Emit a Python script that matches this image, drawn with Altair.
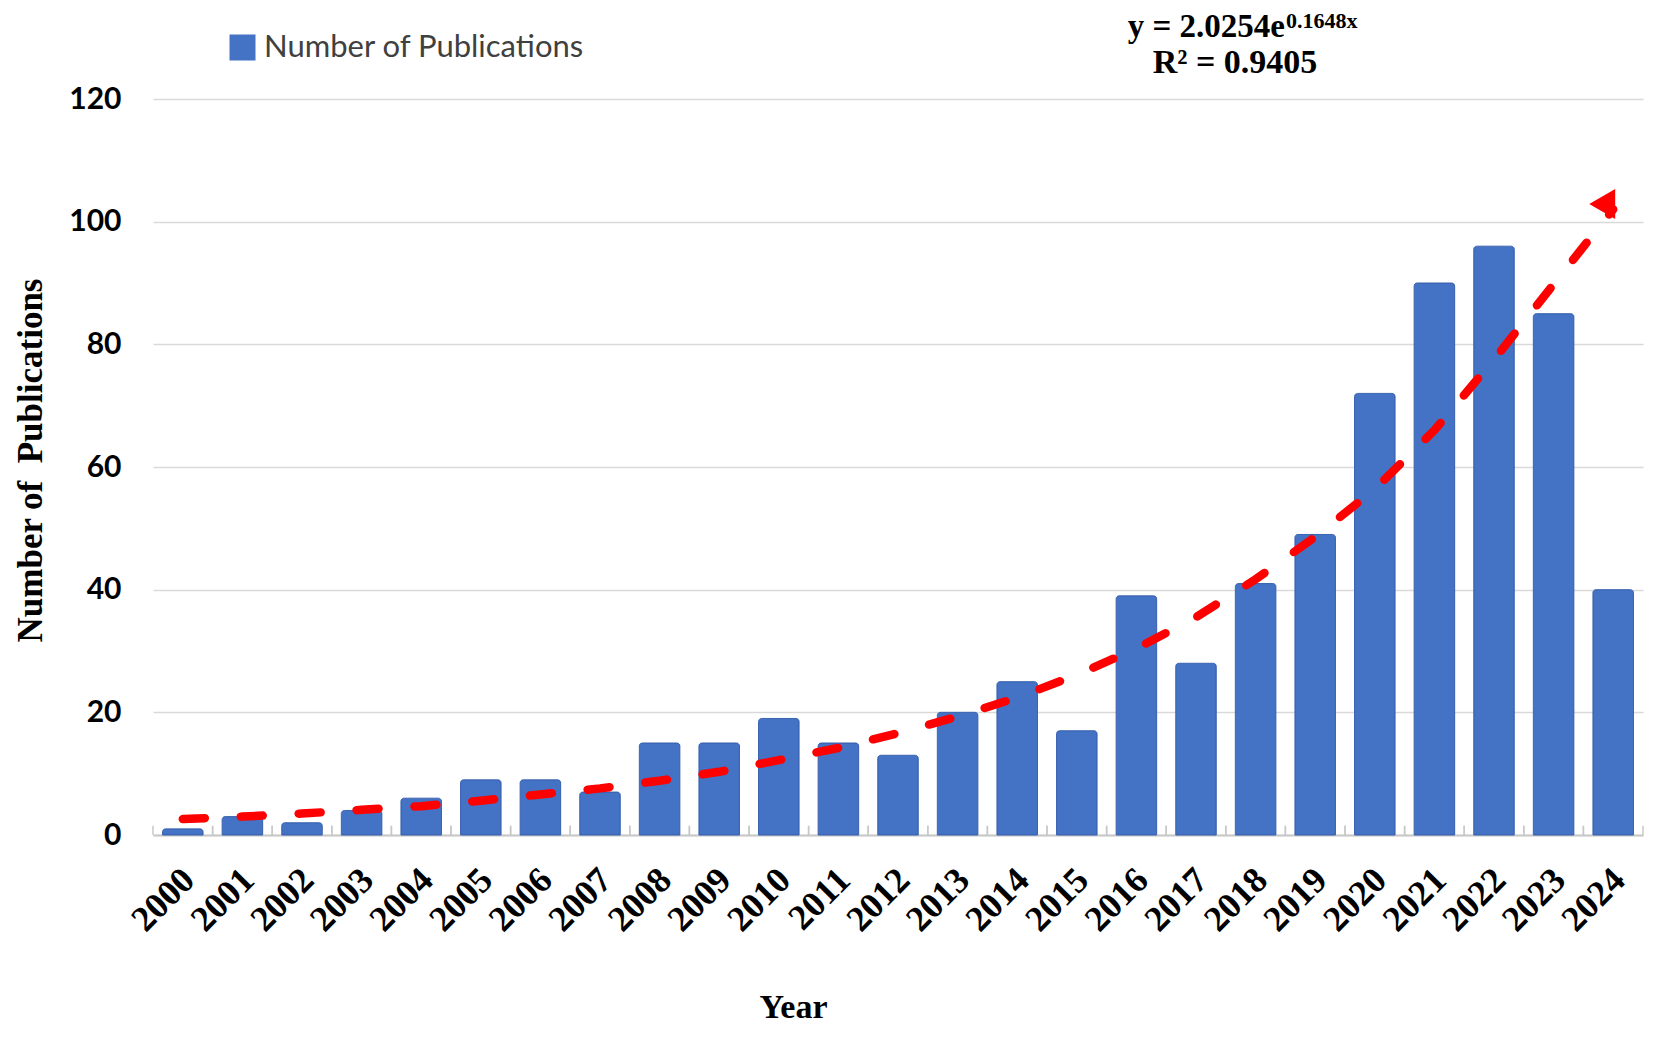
import altair as alt
import pandas as pd

years = [str(y) for y in range(2000, 2025)]
publications = [1, 3, 2, 4, 6, 9, 9, 7, 15, 15, 19, 15, 13, 20, 25, 17, 39, 28, 41, 49, 72, 90, 96, 85, 40]
trend = [2.6, 3.0, 3.5, 4.1, 4.7, 5.6, 6.6, 7.6, 8.85, 10.3, 12.2, 14.2, 16.6, 19.3, 22.4,
         26.1, 30.4, 35.5, 41.7, 48.6, 56.4, 66.0, 77.5, 89.8, 102.0]
series_name = "Number of Publications"
y_ticks = [0, 20, 40, 60, 80, 100, 120]
arrow_year = ["2024"]
arrow_value = [102.9]
eq_main = "y = 2.0254e"
eq_sup = "0.1648x"
eq_r2 = "R\u00b2 = 0.9405"

df = pd.DataFrame({"year": years, "pubs": publications, "trend": trend,
                   "series": [series_name] * len(years)})
arrow_df = pd.DataFrame({"year": arrow_year, "v": arrow_value})

W, H = 1490, 736
xscale = alt.Scale(paddingInner=0, paddingOuter=0)
yscale = alt.Scale(domain=[0, 120], nice=False)

x_axis = alt.Axis(
    title="Year", labelAngle=315, labelAlign="right", labelBaseline="top",
    labelPadding=27, labelOffset=-6, labelFont="Liberation Serif", labelFontWeight="bold",
    labelFontSize=36, labelColor="black", ticks=False, domainColor="#c8c8c8",
    domainWidth=2, grid=False, titleFont="Liberation Serif", titleFontWeight="bold",
    titleFontSize=34, titleColor="black", titleX=640, titleY=182,
    titleBaseline="alphabetic", titleAlign="center",
)
y_axis = alt.Axis(
    title="Number of\u00a0 Publications", values=y_ticks, labelFont="Lato",
    labelFontWeight="bold", labelFontSize=30, labelColor="black", labelPadding=32,
    ticks=False, domain=False, grid=True, gridColor="#d9d9d9", gridWidth=1.5,
    titleFont="Liberation Serif", titleFontWeight="bold", titleFontSize=35,
    titleColor="black", titleX=-123, titleY=361, titleAngle=270,
    titleBaseline="middle", titleAlign="center",
)

base = alt.Chart(df)

bars = base.mark_bar(
    width=alt.RelativeBandSize(0.68), cornerRadiusTopLeft=3, cornerRadiusTopRight=3,
    stroke="#3a63b0", strokeWidth=1,
).encode(
    x=alt.X("year:O", scale=xscale, axis=x_axis),
    y=alt.Y("pubs:Q", scale=yscale, axis=y_axis),
    color=alt.Color("series:N", scale=alt.Scale(domain=[series_name], range=["#4472C4"]),
                    legend=alt.Legend(title=None, orient="none", legendX=74, legendY=-67,
                                      symbolType="square", symbolSize=676,
                                      symbolStrokeWidth=0, labelFont="Lato",
                                      labelFontSize=31, labelColor="#404040",
                                      labelOffset=6, padding=0, labelLimit=1000)),
)

ticks_left = base.mark_rule(color="#c8c8c8", strokeWidth=1.5).encode(
    x=alt.X("year:O", bandPosition=0), y=alt.datum(0), y2=alt.datum(1.5))
ticks_right = base.mark_rule(color="#c8c8c8", strokeWidth=1.5).encode(
    x=alt.X("year:O", bandPosition=1), y=alt.datum(0), y2=alt.datum(1.5))

trend_line = base.mark_line(color="#FF0000", strokeWidth=8.5, strokeDash=[22, 36],
                            strokeCap="round").encode(
    x=alt.X("year:O"), y=alt.Y("trend:Q"))

arrow = alt.Chart(arrow_df).mark_point(shape="triangle-left", filled=True, size=900,
                                       color="#FF0000", opacity=1, xOffset=-11).encode(
    x=alt.X("year:O"), y=alt.Y("v:Q"))

t1 = alt.Chart(pd.DataFrame({"t": [eq_main]})).mark_text(
    font="Liberation Serif", fontWeight="bold", fontSize=33, color="black",
    align="right", baseline="alphabetic").encode(
    x=alt.value(1132), y=alt.value(-62), text="t:N")
t2 = alt.Chart(pd.DataFrame({"t": [eq_sup]})).mark_text(
    font="Liberation Serif", fontWeight="bold", fontSize=22, color="black",
    align="left", baseline="alphabetic").encode(
    x=alt.value(1133), y=alt.value(-71), text="t:N")
t3 = alt.Chart(pd.DataFrame({"t": [eq_r2]})).mark_text(
    font="Liberation Serif", fontWeight="bold", fontSize=34, color="black",
    align="center", baseline="alphabetic").encode(
    x=alt.value(1082), y=alt.value(-26), text="t:N")

chart = alt.layer(bars, ticks_left, ticks_right, trend_line, arrow, t1, t2, t3).properties(
    width=W, height=H,
    background="white",
    autosize=alt.AutoSizeParams(type="none"),
    padding={"left": 145, "top": 91, "right": 2, "bottom": 191},
).configure_view(stroke="transparent", strokeWidth=0)

chart.save("out.html", embed_options={"renderer": "svg", "actions": False})
